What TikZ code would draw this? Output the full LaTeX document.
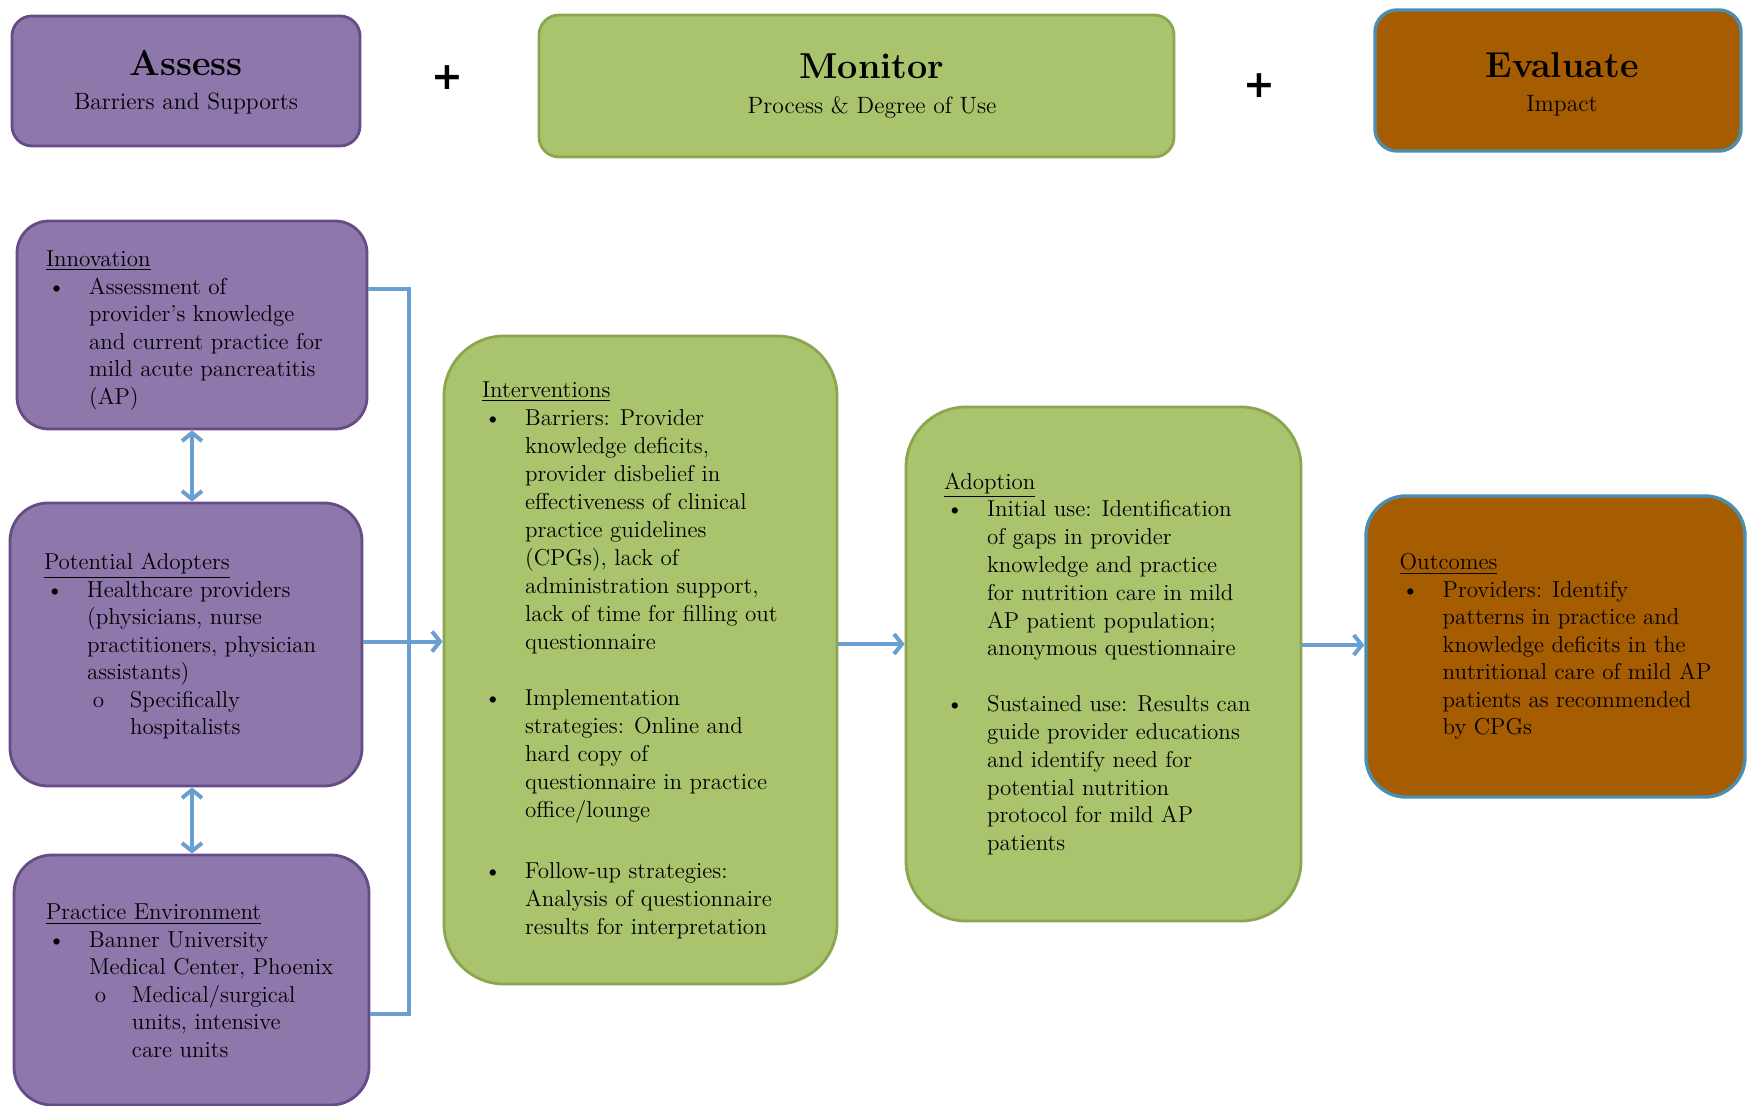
\documentclass[tikz,border=0pt]{standalone}
\usepackage{fontspec}
\usepackage{tikz}
\usetikzlibrary{
    arrows.meta,
    positioning,
    calc
}
\newfontfamily\plusfont{DejaVu Sans}
\definecolor{purplefill}{HTML}{8E77AB}
\definecolor{purpleedge}{HTML}{654C86}
\definecolor{greenfill}{HTML}{A9C46C}
\definecolor{greenedge}{HTML}{8BA64F}
\definecolor{brownfill}{HTML}{A65C00}
\definecolor{brownedge}{HTML}{4A8FB0}
\definecolor{linkblue}{HTML}{6A9FD2}

\newcommand{\bul}{\makebox[21.5pt][l]{\hspace{1pt}\textbullet}}
\newcommand{\ind}{\hspace*{21.5pt}}
\newcommand{\subbul}{\hspace*{21.5pt}\makebox[21.5pt][l]{\hspace{3pt}o}}
\newcommand{\subind}{\hspace*{43pt}}
\newcommand{\boxtitle}[2]{{\fontsize{18}{20}\selectfont\bfseries #1}\\[5.2pt] {\fontsize{11.8}{14}\selectfont #2}}

\tikzset{
    box/.style={draw, line width=1.4pt, inner sep=0pt},
    assessbox/.style={box, fill=purplefill, draw=purpleedge},
    monitorbox/.style={box, fill=greenfill, draw=greenedge},
    evalbox/.style={box, fill=brownfill, draw=brownedge, line width=1.7pt},
    headtxt/.style={align=center, inner sep=0pt},
    plus/.style={font=\fontsize{19}{22}\selectfont\plusfont\bfseries},
    txt/.style={align=left, inner sep=0pt, anchor=west,
        font=\fontsize{11.5}{13.75}\selectfont},
    link/.style={draw=linkblue, line width=2pt},
    arrow/.style={link, -{Straight Barb[length=4pt,width=10pt]}},
    both/.style={link, {Straight Barb[length=4pt,width=10pt]}-{Straight Barb[length=4pt,width=10pt]}}
}

\begin{document}
\begin{tikzpicture}[x=0.5pt, y=-0.5pt]
                        \useasboundingbox (0,0) rectangle (1749,1106);

                        % top row
                        \node[assessbox, rounded corners=10pt, minimum width=174pt, minimum height=65pt] (assess) at (186,81) {};
                        \node[monitorbox, rounded corners=10pt, minimum width=317.5pt, minimum height=71pt] (monitor) at (856.5,86) {};
                        \node[evalbox, rounded corners=11pt, minimum width=183pt, minimum height=70.5pt] (evaluate) at (1558,80.5) {};

                        \node[headtxt] (assesstxt) at ([yshift=-0.5pt]assess.center) {\boxtitle{Assess}{Barriers and Supports}};
                        \node[headtxt] (monitortxt) at ([xshift=7.75pt]monitor.center) {\boxtitle{Monitor}{Process \& Degree of Use}};
                        \node[headtxt] (evaluatetxt) at ([xshift=2pt,yshift=-2pt]evaluate.center) {\boxtitle{Evaluate}{Impact}};

                        \node[plus] (plusa) at (447,78) {+};
                        \node[plus] (plusb) at (1259,86) {+};

                        % assess column
                        \node[assessbox, rounded corners=16pt, minimum width=175pt, minimum height=104pt] (innov) at (192,325) {};
                        \node[assessbox, rounded corners=19pt, minimum width=176pt, minimum height=141.5pt] (adopt) at (186,644.5) {};
                        \node[assessbox, rounded corners=19pt, minimum width=177.5pt, minimum height=125pt] (practice) at (191.5,980) {};

                        \node[txt] (innovtxt) at ([xshift=15pt,yshift=-2.8pt]innov.west) {\underline{Innovation}\\
                            \bul Assessment of\\
                            \ind provider's knowledge\\
                            \ind and current practice for\\
                            \ind mild acute pancreatitis\\
                            \ind (AP)};
                        \node[txt] (adopttxt) at ([xshift=17.5pt,yshift=-1pt]adopt.west) {\underline{Potential Adopters}\\
                            \bul Healthcare providers\\
                            \ind (physicians, nurse\\
                            \ind practitioners, physician\\
                            \ind assistants)\\
                            \subbul Specifically\\
                            \subind hospitalists};
                        \node[txt] (practicetxt) at ([xshift=16.5pt,yshift=-0.5pt]practice.west) {\underline{Practice Environment}\\
                            \bul Banner University\\
                            \ind Medical Center, Phoenix\\
                            \subbul Medical/surgical\\
                            \subind units, intensive\\
                            \subind care units};

                        % monitor column
                        \node[monitorbox, rounded corners=30pt, minimum width=196.5pt, minimum height=324pt] (interv) at (640.5,660) {};
                        \node[monitorbox, rounded corners=30pt, minimum width=197.5pt, minimum height=257pt] (adoption) at (1103.5,664) {};

                        \node[txt, font=\fontsize{11.5}{14}\selectfont] (intervtxt) at ([xshift=19.5pt]interv.west) {\underline{Interventions}\\
                            \bul Barriers: Provider\\
                            \ind knowledge deficits,\\
                            \ind provider disbelief in\\
                            \ind effectiveness of clinical\\
                            \ind practice guidelines\\
                            \ind (CPGs), lack of\\
                            \ind administration support,\\
                            \ind lack of time for filling out\\
                            \ind questionnaire\\[14pt]
                            \bul Implementation\\
                            \ind strategies: Online and\\
                            \ind hard copy of\\
                            \ind questionnaire in practice\\
                            \ind office/lounge\\[16.5pt]
                            \bul Follow-up strategies:\\
                            \ind Analysis of questionnaire\\
                            \ind results for interpretation};
                        \node[txt, font=\fontsize{11.5}{13.9}\selectfont] (adoptiontxt) at ([xshift=19.5pt]adoption.west) {\underline{Adoption}\\
                            \bul Initial use: Identification\\
                            \ind of gaps in provider\\
                            \ind knowledge and practice\\
                            \ind for nutrition care in mild\\
                            \ind AP patient population;\\
                            \ind anonymous questionnaire\\[14pt]
                            \bul Sustained use: Results can\\
                            \ind guide provider educations\\
                            \ind and identify need for\\
                            \ind potential nutrition\\
                            \ind protocol for mild AP\\
                            \ind patients};

                        % evaluate column
                        \node[evalbox, rounded corners=20pt, minimum width=189.5pt, minimum height=150.5pt] (outcomes) at (1555.5,646.5) {};
                        \node[txt] (outcomestxt) at ([xshift=17.5pt]outcomes.west) {\underline{Outcomes}\\
                            \bul Providers: Identify\\
                            \ind patterns in practice and\\
                            \ind knowledge deficits in the\\
                            \ind nutritional care of mild AP\\
                            \ind patients as recommended\\
                            \ind by CPGs};

                        % connectors
                        \coordinate (railtop) at (409,289);
                        \coordinate (railbot) at (409,1014);
                        \draw[link] ([yshift=18pt]innov.east) -- (railtop) -- (railbot) -- ([yshift=-17pt]practice.east);
                        \draw[both] (innov.south) -- (innov.south |- adopt.north);
                        \draw[both] (innov.south |- adopt.south) -- (innov.south |- practice.north);
                        \draw[arrow] ([yshift=1.5pt]adopt.east) -- ([yshift=1.5pt]adopt.east -| interv.west);
                        \draw[arrow] ([yshift=8pt]interv.east) -- ([yshift=8pt]interv.east -| adoption.west);
                        \draw[arrow] ([yshift=9.5pt]adoption.east) -- ([yshift=9.5pt]adoption.east -| outcomes.west);
                    \end{tikzpicture}
\end{document}
